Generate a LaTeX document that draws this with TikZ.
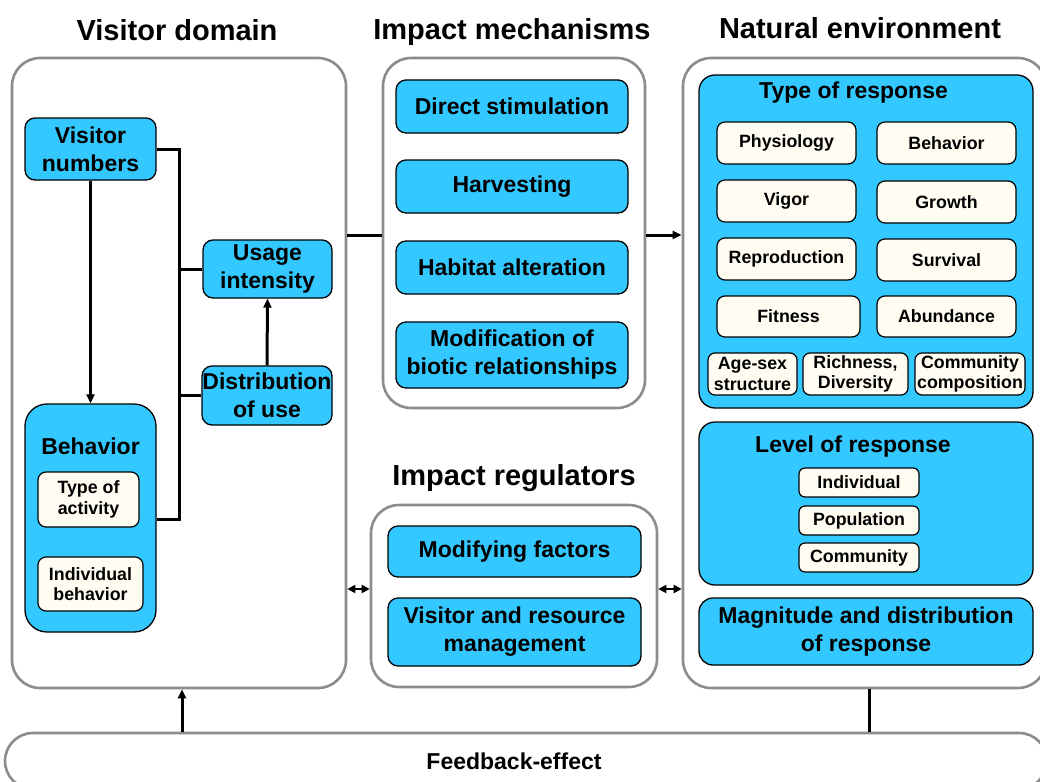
\documentclass[tikz,border=0pt]{standalone}
\usepackage{fontspec}
\setmainfont{Liberation Sans}
\usetikzlibrary{arrows.meta}
\definecolor{cy}{RGB}{51,200,255}
\definecolor{iv}{RGB}{255,253,242}
\definecolor{gr}{RGB}{140,140,140}
\tikzset{
  outer/.style={draw=gr, line width=2.6pt, rounded corners=28pt, fill=white, inner sep=0pt},
  bluebox/.style={draw=black, line width=1.3pt, fill=cy, rounded corners=10pt, inner sep=0pt,
    font=\fontsize{23}{28}\selectfont\bfseries, align=center},
  ivbox/.style={draw=black, line width=1.2pt, fill=iv, rounded corners=8pt, inner sep=0pt,
    font=\fontsize{17.8}{20.5}\selectfont\bfseries, align=center},
  title/.style={font=\fontsize{29}{34}\selectfont\bfseries, anchor=base},
  subtitle/.style={font=\fontsize{23}{28}\selectfont\bfseries, anchor=base},
  conn/.style={line width=3pt},
  arr/.style={line width=3pt, -{Triangle[length=9pt,width=8pt]}},
  darr/.style={line width=2.5pt, {Triangle[length=8pt,width=8pt]}-{Triangle[length=8pt,width=8pt]}},
}
\begin{document}
\begin{tikzpicture}[x=1pt,y=-1pt]
\useasboundingbox (0,0) rectangle (1040,781);
\fill[white] (0,0) rectangle (1040,781);

% titles
\node[title] (tvd) at (177,41) {Visitor domain};
\node[title] (tim) at (512,40) {Impact mechanisms};
\node[title] (tne) at (860,39) {Natural environment};
\node[title] (tir) at (514,485) {Impact regulators};

% outer boxes
\node[outer, minimum width=334pt, minimum height=630pt] (vd) at (179,373) {};
\node[outer, minimum width=262pt, minimum height=350pt] (im) at (514,233) {};
\node[outer, minimum width=286pt, minimum height=182pt] (ir) at (514,596) {};
\node[outer, minimum width=363pt, minimum height=630pt] (ne) at (864.5,373) {};
\node[outer, minimum width=1042pt, minimum height=56pt,
  label={[xshift=-12pt, font=\fontsize{23}{28}\selectfont\bfseries]center:Feedback-effect}] (fb) at (526,761) {};

% visitor domain
\node[bluebox, minimum width=131pt, minimum height=62pt] (vn) at (90.5,149) {Visitor\\numbers};
\node[bluebox, minimum width=129pt, minimum height=58pt] (ui) at (267.5,269) {Usage\\intensity};
\node[bluebox, minimum width=130pt, minimum height=59pt] (du) at (267,395.5) {Distribution\\of use};
\node[bluebox, rounded corners=22pt, minimum width=131pt, minimum height=228pt] (beh) at (90.5,518) {};
\node[subtitle] (behT) at (90.5,454) {Behavior};
\node[ivbox, minimum width=101pt, minimum height=55pt] (ta) at (88.5,499.5) {Type of\\activity};
\node[ivbox, minimum width=105pt, minimum height=54pt] (ib) at (90.5,584) {Individual\\behavior};

% impact mechanisms
\node[bluebox, minimum width=232pt, minimum height=53pt] (ds) at (512,106.5) {Direct stimulation};
\node[bluebox, minimum width=232pt, minimum height=53pt] (hv) at (512,186.5) {Harvesting};
\node[bluebox, minimum width=232pt, minimum height=53pt] (ha) at (512,267.5) {Habitat alteration};
\node[bluebox, minimum width=232pt, minimum height=66pt] (mb) at (512,355) {Modification of\\biotic relationships};

% impact regulators
\node[bluebox, minimum width=253pt, minimum height=51pt] (mf) at (514.5,551.5) {Modifying factors};
\node[bluebox, minimum width=253pt, minimum height=68pt] (vr) at (514.5,632) {Visitor and resource\\management};

% natural environment
\node[bluebox, rounded corners=16pt, minimum width=334pt, minimum height=333pt] (tr) at (866,241.5) {};
\node[subtitle] (trT) at (853.5,99) {Type of response};
\node[ivbox, minimum width=139pt, minimum height=42pt] (phy) at (786.5,143) {Physiology};
\node[ivbox, minimum width=139pt, minimum height=42pt] (bhv) at (946.5,143) {Behavior};
\node[ivbox, minimum width=139pt, minimum height=42pt] (vig) at (786.5,201) {Vigor};
\node[ivbox, minimum width=139pt, minimum height=42pt] (gro) at (946.5,202) {Growth};
\node[ivbox, minimum width=139pt, minimum height=42pt] (rep) at (786.5,259) {Reproduction};
\node[ivbox, minimum width=139pt, minimum height=42pt] (sur) at (946.5,260) {Survival};
\node[ivbox, minimum width=143pt, minimum height=41pt] (fit) at (788.5,316.5) {Fitness};
\node[ivbox, minimum width=139pt, minimum height=41pt] (abu) at (946.5,316.5) {Abundance};
\node[ivbox, rounded corners=7pt, minimum width=89pt, minimum height=42pt] (age) at (752.5,374) {Age-sex\\structure};
\node[ivbox, rounded corners=7pt, minimum width=105pt, minimum height=42pt] (ric) at (855.5,374) {Richness,\\Diversity};
\node[ivbox, rounded corners=7pt, minimum width=110pt, minimum height=42pt] (com) at (970,374) {Community\\composition};

\node[bluebox, rounded corners=16pt, minimum width=334pt, minimum height=163pt] (lr) at (866,503.5) {};
\node[subtitle] (lrT) at (853,452) {Level of response};
\node[ivbox, rounded corners=6pt, minimum width=120pt, minimum height=29pt] (ind) at (859,482.5) {Individual};
\node[ivbox, rounded corners=6pt, minimum width=120pt, minimum height=29pt] (pop) at (859,520.5) {Population};
\node[ivbox, rounded corners=6pt, minimum width=120pt, minimum height=29pt] (cmm) at (859,557.5) {Community};

\node[bluebox, rounded corners=14pt, minimum width=334pt, minimum height=67pt] (md) at (866,631.5) {Magnitude and distribution\\of response};

% helper coordinates
\coordinate (busT) at (179,149);
\coordinate (busB) at (179,519);
\coordinate (yA) at (0,235);
\coordinate (yR) at (0,589);
\coordinate (xF) at (182,0);
\coordinate (xG) at (869,0);

% connectors
\draw[conn] (vn.east) -- (busT) -- (busB) -- (beh.east |- busB);
\draw[conn] (ui.west -| busT) -- (ui.west);
\draw[conn] (du.west -| busT) -- (du.west);
\draw[arr] (vn.south) -- (beh.north);
\draw[arr] (du.north) -- (ui.south);
\draw[conn] (vd.east |- yA) -- (im.west |- yA);
\draw[arr] (im.east |- yA) -- (ne.west |- yA);
\draw[darr] (vd.east |- yR) -- (ir.west |- yR);
\draw[darr] (ir.east |- yR) -- (ne.west |- yR);
\draw[arr] (fb.north -| xF) -- (vd.south -| xF);
\draw[conn] (ne.south -| xG) -- (fb.north -| xG);
\end{tikzpicture}
\end{document}
